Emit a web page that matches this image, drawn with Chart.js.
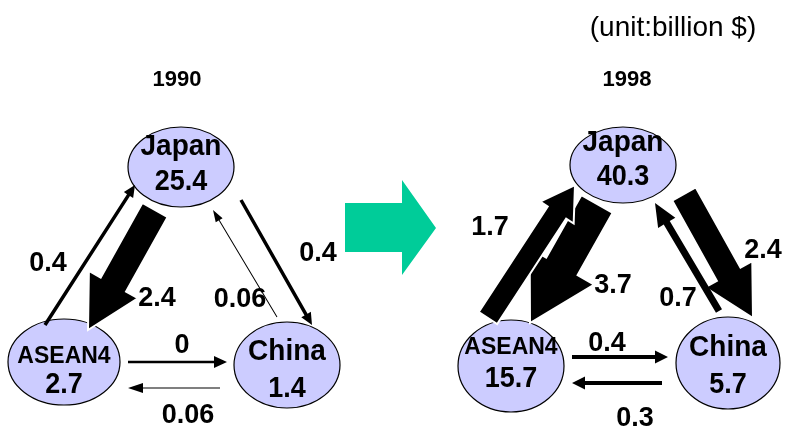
<!DOCTYPE html>
<html>
<head>
<meta charset="utf-8">
<script src="https://cdn.jsdelivr.net/npm/chart.js@4/dist/chart.umd.min.js"></script>
<style>
  html, body { margin: 0; padding: 0; background: #fff; }
  #wrap { width: 785px; height: 427px; }
</style>
</head>
<body>
<div id="wrap"><canvas id="c" width="785" height="427"></canvas></div>
<script>
// Trade between Japan, ASEAN4 and China, 1990 vs 1998 (billion $)
const regions = ['Japan', 'ASEAN4', 'China'];
const years = ['1990', '1998'];
const totals1990 = [25.4, 2.7, 1.4];
const totals1998 = [40.3, 15.7, 5.7];
// each flow runs from flowFrom[i] to flowTo[i]
const flowFrom = ['ASEAN4', 'Japan', 'Japan', 'China', 'ASEAN4', 'China'];
const flowTo   = ['Japan', 'ASEAN4', 'China', 'Japan', 'China', 'ASEAN4'];
const flows1990 = [0.4, 2.4, 0.4, 0.06, 0, 0.06];
const flows1998 = [1.7, 3.7, 2.4, 0.7, 0.4, 0.3];
const unitNote = '(unit:billion $)';

// ---- layout (diagram coordinates, 0..785 x 0..427) ----
const FONT = '"Liberation Sans", Arial, sans-serif';
const panels = [
  {
    year: years[0], totals: totals1990, flows: flows1990, title: [177, 80],
    nodes: {
      Japan:  { x: 181, y: 167, rx: 53, ry: 40, nameDy: -20, valDy: 15, nameSize: 28 },
      ASEAN4: { x: 64,  y: 362, rx: 56, ry: 43, nameDy: -6,  valDy: 23, nameSize: 23 },
      China:  { x: 287, y: 365, rx: 53, ry: 43, nameDy: -13, valDy: 24, nameSize: 28 }
    },
    // arrow geometry per flow: tail, tip, shaft width, head length, head width, label spot
    arrows: [
      { a: [45, 325],  b: [135, 185], w: 3.5, hl: 12, hw: 11, lab: [48, 263] },
      { a: [155, 210], b: [88, 330],  w: 29,  hl: 52, hw: 56, lab: [157, 298] },
      { a: [241, 200], b: [312, 325], w: 3.5, hl: 12, hw: 11, lab: [318, 253] },
      { a: [277, 317], b: [213, 210], w: 1,   hl: 12, hw: 8,  lab: [240, 299] },
      { a: [128, 362], b: [227, 362], w: 2.5, hl: 13, hw: 12, lab: [182, 345] },
      { a: [220, 388], b: [128, 388], w: 1,   hl: 15, hw: 10, lab: [188, 415] }
    ]
  },
  {
    year: years[1], totals: totals1998, flows: flows1998, title: [627, 80],
    nodes: {
      Japan:  { x: 623, y: 165, rx: 53, ry: 38, nameDy: -22, valDy: 12, nameSize: 28 },
      ASEAN4: { x: 511, y: 366, rx: 53, ry: 46, nameDy: -19, valDy: 13, nameSize: 23 },
      China:  { x: 728, y: 363, rx: 52, ry: 46, nameDy: -15, valDy: 22, nameSize: 28 }
    },
    arrows: [
      { a: [488, 318], b: [575, 185], w: 22, hl: 33, hw: 40, lab: [490, 227] },
      { a: [597, 204], b: [530, 323], w: 36, hl: 65, hw: 74, lab: [613, 285] },
      { a: [684, 194], b: [753, 318], w: 27, hl: 50, hw: 54, lab: [763, 250] },
      { a: [719, 311], b: [655, 203], w: 7,  hl: 23, hw: 20, lab: [678, 298] },
      { a: [572, 357], b: [668, 357], w: 4,  hl: 13, hw: 13, lab: [607, 343] },
      { a: [662, 383], b: [572, 383], w: 4,  hl: 13, hw: 13, lab: [635, 418] }
    ]
  }
];
const transition = [[345, 203], [402, 203], [402, 180], [436, 228], [402, 275], [402, 252], [345, 252]];

function blockArrow(ctx, x1, y1, x2, y2, w, hl, hw) {
  const dx = x2 - x1, dy = y2 - y1, len = Math.hypot(dx, dy);
  const ux = dx / len, uy = dy / len, nx = -uy, ny = ux;
  const bx = x2 - ux * hl, by = y2 - uy * hl;
  const pts = [
    [x1 + nx * w / 2, y1 + ny * w / 2],
    [bx + nx * w / 2, by + ny * w / 2],
    [bx + nx * hw / 2, by + ny * hw / 2],
    [x2, y2],
    [bx - nx * hw / 2, by - ny * hw / 2],
    [bx - nx * w / 2, by - ny * w / 2],
    [x1 - nx * w / 2, y1 - ny * w / 2]
  ];
  ctx.beginPath();
  pts.forEach((p, i) => i ? ctx.lineTo(p[0], p[1]) : ctx.moveTo(p[0], p[1]));
  ctx.closePath();
}

// text with a slight vertical stretch
function tallText(ctx, s, x, y, font, sy) {
  ctx.save();
  ctx.translate(x, y);
  ctx.scale(1, sy);
  ctx.font = font;
  ctx.fillText(s, 0, 0);
  ctx.restore();
}

const tradeDiagram = {
  id: 'tradeDiagram',
  afterDatasetsDraw(chart) {
    const { ctx, scales: { x, y } } = chart;
    const X = v => x.getPixelForValue(v);
    const Y = v => y.getPixelForValue(v);
    ctx.save();

    // unit note
    ctx.fillStyle = '#000';
    ctx.textAlign = 'center';
    ctx.textBaseline = 'middle';
    ctx.font = '28px ' + FONT;
    ctx.fillText(unitNote, X(673), Y(28));

    // arrow between the two years
    ctx.beginPath();
    transition.forEach((p, i) => i ? ctx.lineTo(X(p[0]), Y(p[1])) : ctx.moveTo(X(p[0]), Y(p[1])));
    ctx.closePath();
    ctx.fillStyle = '#00CC99';
    ctx.fill();

    panels.forEach(panel => {
      // year heading
      ctx.fillStyle = '#000';
      ctx.font = 'bold 22px ' + FONT;
      ctx.fillText(panel.year, X(panel.title[0]), Y(panel.title[1]));

      // region ellipses
      regions.forEach(r => {
        const n = panel.nodes[r];
        ctx.beginPath();
        ctx.ellipse(X(n.x), Y(n.y), Math.abs(X(n.x + n.rx) - X(n.x)), Math.abs(Y(n.y + n.ry) - Y(n.y)), 0, 0, Math.PI * 2);
        ctx.fillStyle = '#CCCCFF';
        ctx.fill();
        ctx.lineWidth = 1.2;
        ctx.strokeStyle = '#000';
        ctx.stroke();
      });

      // flows, biggest first so smaller ones sit on top
      const order = panel.flows.map((v, i) => i).sort((a, b) => panel.flows[b] - panel.flows[a]);
      order.forEach(i => {
        const g = panel.arrows[i];
        blockArrow(ctx, X(g.a[0]), Y(g.a[1]), X(g.b[0]), Y(g.b[1]), g.w, g.hl, g.hw);
        ctx.fillStyle = '#000';
        ctx.fill();
        if (g.w >= 15) {
          ctx.lineWidth = 2;
          ctx.strokeStyle = '#fff';
          ctx.lineJoin = 'miter';
          ctx.stroke();
        }
      });

      // flow values
      ctx.fillStyle = '#000';
      panel.flows.forEach((v, i) => {
        const g = panel.arrows[i];
        tallText(ctx, String(v), X(g.lab[0]), Y(g.lab[1]), 'bold 27px ' + FONT, 1.04);
      });

      // region names and totals
      regions.forEach((r, i) => {
        const n = panel.nodes[r];
        tallText(ctx, r, X(n.x), Y(n.y + n.nameDy), 'bold ' + n.nameSize + 'px ' + FONT, 1.06);
        tallText(ctx, String(panel.totals[i]), X(n.x), Y(n.y + n.valDy), 'bold 27px ' + FONT, 1.12);
      });
    });
    ctx.restore();
  }
};

new Chart(document.getElementById('c'), {
  type: 'scatter',
  data: {
    datasets: panels.map(p => ({
      label: p.year,
      data: regions.map(r => ({ x: p.nodes[r].x, y: p.nodes[r].y })),
      pointRadius: 0,
      pointHoverRadius: 0
    }))
  },
  options: {
    responsive: false,
    animation: false,
    devicePixelRatio: 1,
    layout: { padding: 0 },
    events: [],
    plugins: { legend: { display: false }, tooltip: { enabled: false }, title: { display: false } },
    scales: {
      x: { type: 'linear', min: 0, max: 785, display: false },
      y: { type: 'linear', min: 0, max: 427, reverse: true, display: false }
    }
  },
  plugins: [tradeDiagram]
});
</script>
</body>
</html>
